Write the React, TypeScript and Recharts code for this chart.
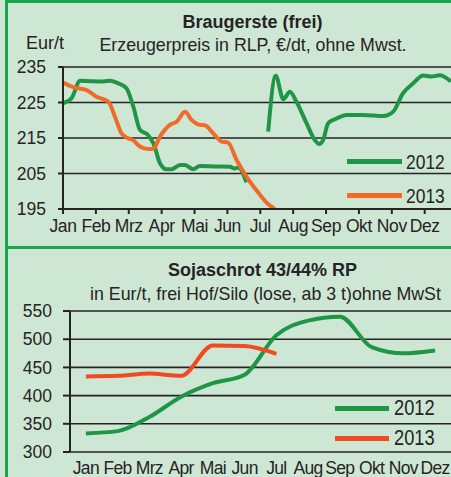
import React from 'react';
import { LineChart, Line, XAxis, YAxis, CartesianGrid, Legend } from 'recharts';

const monthLabels = ['Jan', 'Feb', 'Mrz', 'Apr', 'Mai', 'Jun', 'Jul', 'Aug', 'Sep', 'Okt', 'Nov', 'Dez'];

// Braugerste (frei) — x = position in months (0 = start of Jan)
const brau2012Pos = [0.0, 0.26, 0.52, 0.82, 1.12, 1.43, 1.7, 1.93, 2.14, 2.34, 2.59, 2.75, 2.95, 3.15, 3.3, 3.56, 3.71, 3.96, 4.16, 4.6, 5.08, 5.22, 5.33, 5.58, 5.9, 6.24, 6.47, 6.7, 6.9, 7.1, 7.41, 7.66, 7.79, 7.91, 8.06, 8.32, 8.62, 9.13, 9.74, 10.04, 10.34, 10.65, 10.95, 11.2, 11.46, 11.8];
const brau2012Val = [224.8, 226.2, 231.1, 231.0, 230.9, 231.1, 230.3, 229.0, 223.8, 217.3, 215.8, 213.5, 207.9, 206.2, 206.2, 207.4, 207.4, 206.2, 207.1, 207.0, 206.9, 206.4, 206.7, 202.5, null, 216.8, 232.5, 225.9, 228.0, 225.2, 219.1, 214.4, 213.3, 214.4, 219.1, 220.5, 221.5, 221.5, 221.2, 222.4, 227.6, 230.4, 232.6, 232.3, 232.7, 230.9];
const brau2013Pos = [0.0, 0.31, 0.72, 1.02, 1.38, 1.58, 1.78, 1.98, 2.13, 2.34, 2.59, 2.75, 2.95, 3.25, 3.46, 3.71, 3.91, 4.16, 4.31, 4.57, 4.82, 5.02, 5.28, 5.58, 5.99, 6.19, 6.44];
const brau2013Val = [230.6, 229.3, 228.5, 226.6, 225.2, 221.0, 216.3, 214.9, 214.4, 212.6, 211.9, 212.0, 215.4, 218.7, 219.6, 222.4, 220.1, 218.7, 218.6, 216.3, 214.0, 213.7, 208.8, 204.1, 199.0, 196.8, 195.0];
const brauYTicks = [195, 205, 215, 225, 235];

// Sojaschrot 43/44% RP — monthly values
const soja2012 = [333, 337, 362, 398, 422, 437, 507, 533, 540, 486, 475, 480];
const soja2013 = [434, 435, 439, 435, 489, 488, 474];
const sojaYTicks = [300, 350, 400, 450, 500, 550];

const GREEN = '#1f9646';
const ORANGE_TOP = '#f06a28';
const ORANGE_BOTTOM = '#ef4a23';
const DARK = '#262324';
const BG = '#cee7d4';
const BORDER = '#17a84c';
const FONT = '"Liberation Sans", Arial, sans-serif';

const brau2012Data = brau2012Pos.map((x, i) => ({ x, v: brau2012Val[i] }));
const brau2013Data = brau2013Pos.map((x, i) => ({ x, v: brau2013Val[i] }));
const sojaData = monthLabels.map((m, i) => ({
  pos: i + 0.5,
  y2012: soja2012[i],
  y2013: i < soja2013.length ? soja2013[i] : null,
}));

const makeLegend = (rowH: number, lineW: number, gap: number, fs: number) => (props: any) => (
  <div>
    {(props.payload || []).map((e: any) => (
      <div key={e.value} style={{ display: 'flex', alignItems: 'center', height: rowH }}>
        <span style={{ display: 'inline-block', width: lineW, height: 5, background: e.color }} />
        <span
          style={{
            display: 'inline-block',
            marginLeft: gap,
            fontSize: fs,
            lineHeight: 1,
            color: DARK,
            transform: 'scaleX(0.83)',
            transformOrigin: 'left center',
          }}
        >
          {e.value}
        </span>
      </div>
    ))}
  </div>
);

const abs = (s: React.CSSProperties): React.CSSProperties => ({ position: 'absolute', ...s });

export default function App() {
  return (
    <div
      style={{
        position: 'absolute',
        left: 0,
        top: 0,
        width: 451,
        height: 477,
        overflow: 'hidden',
        background: BG,
        fontFamily: FONT,
        color: DARK,
      }}
    >
      {/* Top chart */}
      <div style={abs({ left: 0, top: 0 })}>
        <LineChart width={451} height={247} margin={{ top: 67, right: 0, bottom: 8, left: 0 }}>
          <CartesianGrid horizontal vertical={false} stroke={DARK} strokeWidth={1.6} />
          <XAxis
            dataKey="x"
            type="number"
            domain={[0, 11.8]}
            allowDataOverflow
            ticks={monthLabels.map((_, i) => i)}
            interval={0}
            tickFormatter={(v: number) => monthLabels[v]}
            height={30}
            tickSize={5}
            tickMargin={6}
            axisLine={{ stroke: DARK, strokeWidth: 2 }}
            tickLine={{ stroke: DARK, strokeWidth: 2 }}
            tick={{ fontSize: 17.5, fill: DARK, style: { letterSpacing: '-0.4px' } }}
          />
          <YAxis
            type="number"
            domain={[195, 235]}
            allowDataOverflow
            ticks={brauYTicks}
            interval={0}
            width={63}
            tickSize={5}
            tickMargin={12}
            axisLine={{ stroke: DARK, strokeWidth: 2 }}
            tickLine={{ stroke: DARK, strokeWidth: 2 }}
            tick={{ fontSize: 17.5, fill: DARK }}
          />
          <Line data={brau2012Data} dataKey="v" name="2012" type="monotone" stroke={GREEN} strokeWidth={4} dot={false} isAnimationActive={false} connectNulls={false} />
          <Line data={brau2013Data} dataKey="v" name="2013" type="monotone" stroke={ORANGE_TOP} strokeWidth={4} dot={false} isAnimationActive={false} />
          <Legend
            layout="vertical"
            align="center"
            verticalAlign="middle"
            content={makeLegend(34, 55, 4, 21)}
            wrapperStyle={{ left: 347, top: 144, width: 110 }}
          />
        </LineChart>
      </div>
      <div style={abs({ left: 0, top: 13, width: 505, textAlign: 'center', fontSize: 18, lineHeight: 1, fontWeight: 'bold', whiteSpace: 'nowrap' })}>
        Braugerste (frei)
      </div>
      <div style={abs({ left: 0, top: 36.5, width: 506, textAlign: 'center', fontSize: 17.8, lineHeight: 1, whiteSpace: 'nowrap' })}>
        Erzeugerpreis in RLP, €/dt, ohne Mwst.
      </div>
      <div style={abs({ left: 26, top: 33.5, fontSize: 18, lineHeight: 1, whiteSpace: 'nowrap' })}>Eur/t</div>

      {/* Bottom chart */}
      <div style={abs({ left: 0, top: 249 })}>
        <LineChart width={451} height={228} data={sojaData} margin={{ top: 62, right: 0, bottom: 0, left: 0 }}>
          <CartesianGrid horizontal vertical={false} stroke={DARK} strokeWidth={1.6} xAxisId="ticks" />
          <XAxis
            xAxisId="ticks"
            dataKey="pos"
            type="number"
            domain={[0, 12]}
            ticks={monthLabels.map((_, i) => i).concat([12])}
            interval={0}
            height={0}
            tick={false}
            tickSize={6}
            axisLine={{ stroke: DARK, strokeWidth: 2 }}
            tickLine={{ stroke: DARK, strokeWidth: 2 }}
          />
          <XAxis
            xAxisId="labels"
            dataKey="pos"
            type="number"
            domain={[0, 12]}
            ticks={monthLabels.map((_, i) => i + 0.5)}
            interval={0}
            tickFormatter={(v: number) => monthLabels[Math.floor(v)]}
            height={25}
            tickSize={0}
            tickMargin={10}
            axisLine={false}
            tickLine={false}
            tick={{ fontSize: 17.5, fill: DARK, style: { letterSpacing: '-0.7px' } }}
          />
          <YAxis
            type="number"
            domain={[300, 550]}
            ticks={sojaYTicks}
            interval={0}
            width={70}
            tickSize={7}
            tickMargin={11}
            axisLine={{ stroke: DARK, strokeWidth: 2 }}
            tickLine={{ stroke: DARK, strokeWidth: 2 }}
            tick={{ fontSize: 17.5, fill: DARK }}
          />
          <Line xAxisId="ticks" dataKey="y2012" name="2012" type="monotone" stroke={GREEN} strokeWidth={4} dot={false} isAnimationActive={false} />
          <Line xAxisId="ticks" dataKey="y2013" name="2013" type="monotone" stroke={ORANGE_BOTTOM} strokeWidth={4} dot={false} isAnimationActive={false} />
          <Legend
            layout="vertical"
            align="center"
            verticalAlign="middle"
            content={makeLegend(30, 54, 5, 22)}
            wrapperStyle={{ left: 335, top: 144, width: 116 }}
          />
        </LineChart>
      </div>
      <div style={abs({ left: 0, top: 261, width: 525, textAlign: 'center', fontSize: 18, lineHeight: 1, fontWeight: 'bold', whiteSpace: 'nowrap' })}>
        Sojaschrot 43/44% RP
      </div>
      <div style={abs({ left: 0, top: 285.5, width: 531, textAlign: 'center', fontSize: 17.8, lineHeight: 1, whiteSpace: 'nowrap' })}>
        in Eur/t, frei Hof/Silo (lose, ab 3 t)ohne MwSt
      </div>

      {/* Frame */}
      <div style={abs({ left: 5, top: 0, width: 446, height: 3, background: BORDER })} />
      <div style={abs({ left: 5, top: 0, width: 3, height: 477, background: BORDER })} />
      <div style={abs({ left: 5, top: 246, width: 446, height: 3, background: BORDER })} />
    </div>
  );
}
